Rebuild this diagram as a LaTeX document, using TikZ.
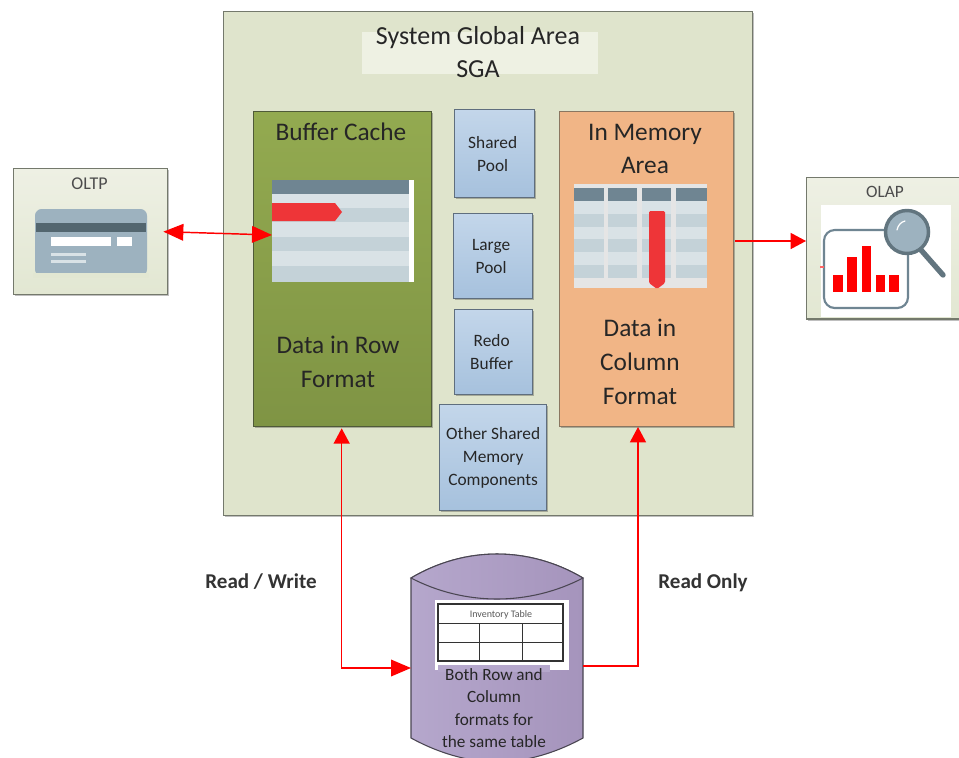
\documentclass[tikz,border=0pt]{standalone}
\usepackage{fontspec}
\setmainfont{Carlito}
\usetikzlibrary{arrows.meta,positioning,calc,shadows}
\definecolor{sgafill}{HTML}{DFE4CC}
\definecolor{sgaline}{HTML}{74796C}
\definecolor{titlebg}{HTML}{EEF1E3}
\definecolor{bufftop}{HTML}{93AA50}
\definecolor{buffbot}{HTML}{7F9444}
\definecolor{bufline}{HTML}{4F5A38}
\definecolor{memfill}{HTML}{F1B586}
\definecolor{memline}{HTML}{8A7660}
\definecolor{pooltop}{HTML}{C3D6EA}
\definecolor{poolbot}{HTML}{A6C1DD}
\definecolor{poolline}{HTML}{5F6E7E}
\definecolor{clienttop}{HTML}{EEF0E4}
\definecolor{clientbot}{HTML}{E2E7D2}
\definecolor{cylleft}{HTML}{B5A7CC}
\definecolor{cylright}{HTML}{A594BC}
\definecolor{cylline}{HTML}{4A4652}
\definecolor{rowa}{HTML}{D9E2E6}
\definecolor{rowb}{HTML}{C4D2D8}
\definecolor{headc}{HTML}{6F8592}
\definecolor{iconc}{HTML}{9DB2BF}
\definecolor{icond}{HTML}{53666F}
\definecolor{redmark}{HTML}{EE3538}
\definecolor{txt}{HTML}{262626}
\tikzset{
  box/.style={draw=#1,line width=1pt,anchor=north west,inner sep=0pt,
    drop shadow={shadow xshift=1.2pt,shadow yshift=-1.2pt,opacity=.25,fill=black}},
  lbl/.style={text=txt,align=center,inner sep=0pt},
  bigtxt/.style={lbl,font=\fontsize{19}{25}\selectfont},
  pooltxt/.style={lbl,font=\fontsize{13}{17.25}\selectfont},
  bigtip/.tip={Triangle[length=15pt,width=12.5pt,fill=red]},
  smalltip/.tip={Triangle[length=11.5pt,width=12pt,fill=red]},
  redline/.style={draw=red,line width=1.1pt},
  sidelbl/.style={lbl,font=\fontsize{15.8}{19}\selectfont\bfseries,text=black!80},
  poolbox/.style={box=poolline,top color=pooltop,bottom color=poolbot},
  clientbox/.style={box=sgaline,top color=clienttop,bottom color=clientbot},
  cylshade/.style={left color=cylleft,right color=cylright},
}
\begin{document}
\begin{tikzpicture}[x=0.75pt,y=-0.75pt]
\useasboundingbox (0,0) rectangle (959,757);
\fill[white] (0,0) rectangle (959,757);

% System Global Area
\node[box=sgaline,fill=sgafill,minimum width=396.75pt,minimum height=378pt] (sga) at (223,11) {};
\fill[titlebg] (362,32) rectangle (598,74);
\node[bigtxt,font=\fontsize{19.5}{24.75}\selectfont] (sgatitle) at (478,52) {System Global Area\\SGA};

% Buffer cache
\node[box=bufline,top color=bufftop,bottom color=buffbot,minimum width=133.5pt,minimum height=236.25pt] (buffer) at (253,111) {};
\node[bigtxt] (buffertitle) at (341,132) {Buffer Cache};
\node[bigtxt] (rowtxt) at (338,362) {Data in Row\\Format};
% row table
\fill[white] (272,180) rectangle (414,282);
\foreach \y/\c/\h in {194/rowa/14,208/rowb/14,222/rowa/15,237/rowb/14,251/rowa/15,266/rowb/16}{
  \fill[\c] (272,\y) rectangle (409,\y+\h);
}
\fill[headc] (272,180) rectangle (409,194);
\fill[redmark] (272,203) -- (335,203) -- (342,212) -- (335,221) -- (272,221) -- cycle;
\coordinate (rowtable) at (272,235);

% Pools
\node[poolbox,minimum width=60pt,minimum height=66pt] (shared) at (454,109) {};
\node[pooltxt,xshift=-1.5pt] at (shared.center) {Shared\\Pool};
\node[poolbox,minimum width=59.25pt,minimum height=63.75pt] (large) at (453,213) {};
\node[pooltxt,xshift=-1.5pt] at (large.center) {Large\\Pool};
\node[poolbox,minimum width=58.5pt,minimum height=63.75pt] (redo) at (454,309) {};
\node[pooltxt,xshift=-1.5pt] at (redo.center) {Redo\\Buffer};
\node[poolbox,minimum width=80.25pt,minimum height=79.5pt] (other) at (439,404) {};
\node[pooltxt] at (other.center) {Other Shared\\Memory\\Components};

% In memory area
\node[box=memline,fill=memfill,minimum width=130.5pt,minimum height=236.25pt] (memory) at (559,111) {};
\node[bigtxt] (memorytitle) at (645,149) {In Memory\\Area};
\node[bigtxt,font=\fontsize{19}{25.5}\selectfont] (coltxt) at (640,362) {Data in\\Column\\Format};
% column table
\fill[black!10] (574,184) rectangle (707,288);
\foreach \y/\c in {201/rowa,214/rowb,227/rowa,239/rowb,252/rowa,265/rowb}{
  \foreach \x/\w in {574/30,608/29,642/29,676/31}{
    \fill[\c] (\x,\y) rectangle (\x+\w,\y+13);
  }
}
\foreach \x/\w in {574/30,608/29,642/29,676/31}{
  \fill[headc] (\x,188) rectangle (\x+\w,201);
}
\fill[redmark,rounded corners=1pt] (649,211) -- (665,211) -- (665,283) -- (657,289) -- (649,283) -- cycle;

% OLTP
\node[clientbox,minimum width=115.5pt,minimum height=94.5pt] (oltp) at (13,168) {};
\node[lbl,font=\fontsize{13.5}{15}\selectfont,text=black!70] (oltptitle) at (89.5,184) {OLTP};
\fill[iconc,rounded corners=5pt] (35,209) rectangle (147,276);
\fill[clientbot] (33,273) rectangle (149,278);
\fill[icond] (36,223) rectangle (146,232);
\fill[white] (51,237) rectangle (111,246);
\fill[white] (117,237) rectangle (132,246);
\fill[rowa] (51,253) rectangle (86,256);
\fill[rowa] (51,260) rectangle (86,263);

% OLAP
\node[clientbox,minimum width=119.25pt,minimum height=106pt] (olap) at (806,177) {};
\node[lbl,font=\fontsize{13}{15}\selectfont,text=black!70] (olaptitle) at (885,192) {OLAP};
\fill[white] (821,205) rectangle (951,317);
\draw[draw=headc,line width=1.6pt,rounded corners=8pt] (824,230) rectangle (908,308);
\fill[red!60] (820,266) rectangle (824,268);
\fill[red] (833,275) rectangle (843,292);
\fill[red] (847,257) rectangle (857,292);
\fill[red] (862,246) rectangle (871,292);
\fill[red] (876,275) rectangle (885,292);
\fill[red] (889,275) rectangle (899,292);
\draw[icond!80!iconc,line width=4pt,line cap=round] (921,250) -- (943,275);
\draw[draw=icond!80!iconc,fill=iconc,line width=2.6pt] (907,232) circle (21.5);
\draw[white,line width=.9pt,line cap=round] (897,230) .. controls (898,225) and (901,222) .. (905,221);

% Cylinder
\coordinate (dbleft) at (411,668);
\coordinate (dbright) at (583,666);
\coordinate (memin) at (638,427);
\coordinate (memout) at (735,241);
\path[cylshade,draw=cylline,line width=.8pt]
  (411,578) .. controls (465,546) and (529,546) .. (583,578)
  -- (583,738) .. controls (550,756) and (520,762) .. (497,762)
  .. controls (474,762) and (444,756) .. (411,738) -- cycle;
\path[draw=cylline,line width=.8pt,cylshade]
  (411,578) .. controls (465,546) and (529,546) .. (583,578)
  .. controls (529,606) and (465,606) .. (411,578) -- cycle;
% inventory table
\fill[white] (435,600) rectangle (569,670);
\draw[black!80,line width=1pt] (438,604) rectangle (563,661);
\draw[black!80,line width=.6pt] (438,623) -- (563,623) (438,642) -- (563,642)
  (479,623) -- (479,661) (522,623) -- (522,661);
\node[lbl,font=\fontsize{7.5}{9}\selectfont,text=black!65] (invtitle) at (501,615) {Inventory Table};
\fill[cylleft] (438,665) rectangle (550,672);
\node[pooltxt,font=\fontsize{12.9}{16.75}\selectfont] (dbtxt) at (494,708) {Both Row and\\Column\\formats for\\the same table};

% Side labels
\node[sidelbl] (rwlbl) at (261,582) {Read / Write};
\node[sidelbl] (rolbl) at (703,583) {Read Only};

% Connectors
\draw[redline,{bigtip}-{bigtip}] ($(oltp.east)+(-5,0)$) -- (rowtable);
\draw[redline,-{smalltip}] (memout) -- (memout -| olap.west);
\draw[redline,{smalltip}-{bigtip}] ($(buffer.south)+(-1,1)$) |- (dbleft);
\draw[redline,-{smalltip}] (dbright) -| (memin);
\end{tikzpicture}
\end{document}
